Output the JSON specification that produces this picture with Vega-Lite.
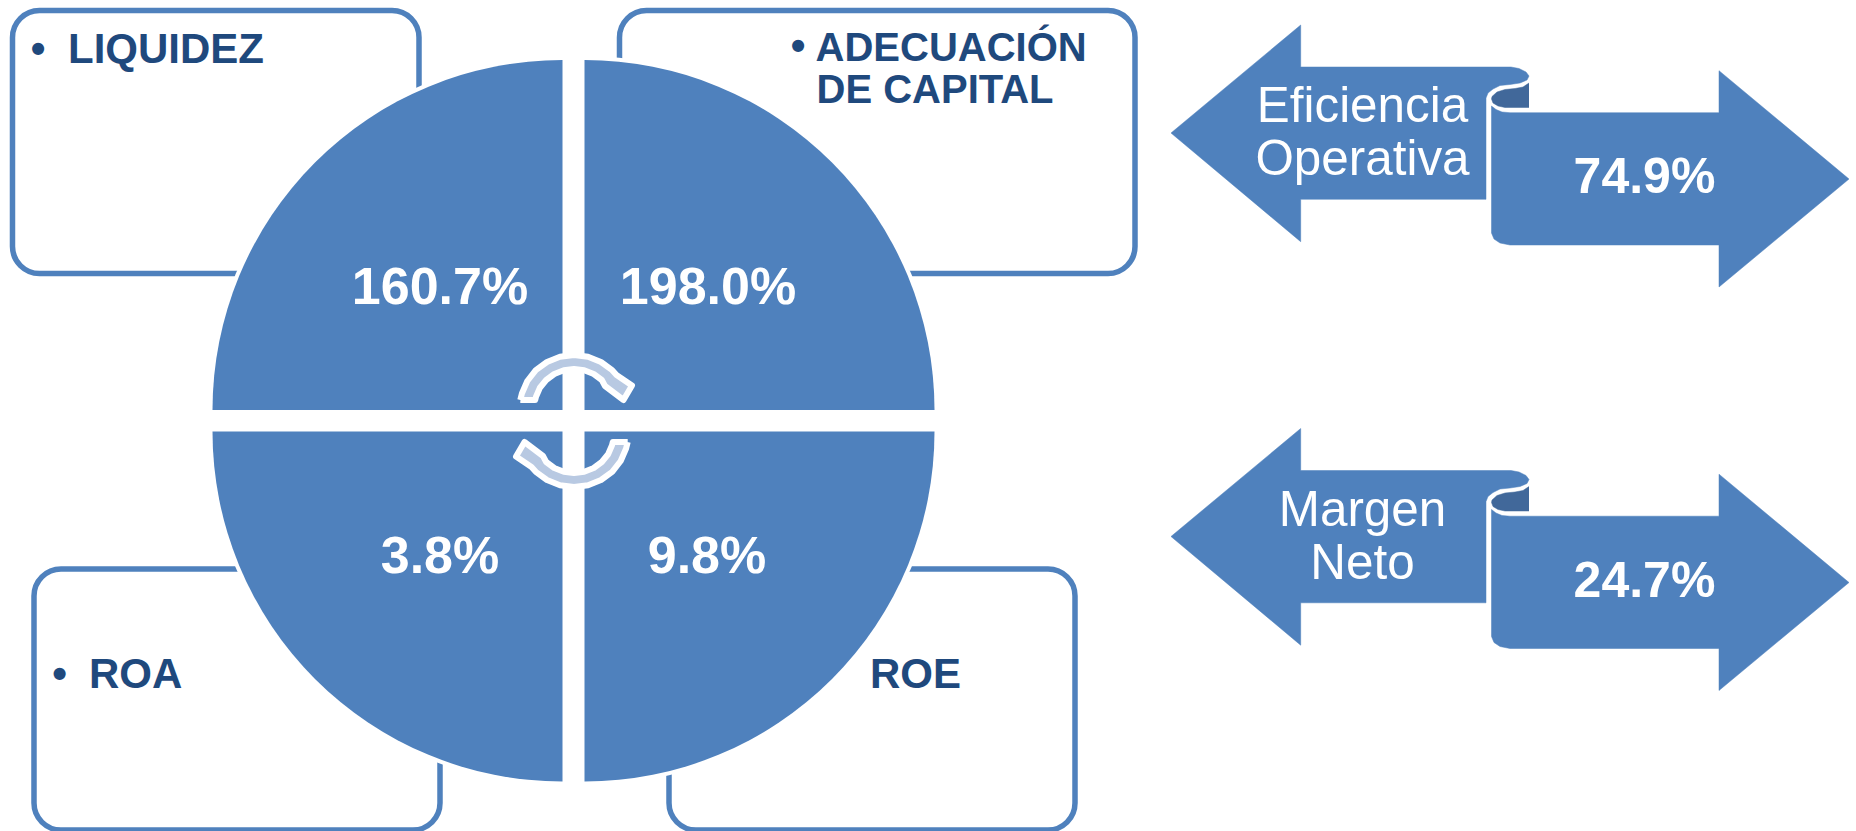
{
"$schema":"https://vega.github.io/schema/vega-lite/v6.json",
"width":1856,"height":831,"padding":0,"autosize":"none","background":"white",
"view":{"stroke":null},
"config":{"font":"Liberation Sans"},
"datasets":{
"boxes":[
{"metric":"Liquidez","x":12.5,"x2":419,"y":10.5,"y2":273.5},
{"metric":"Adecuación de capital","x":619.5,"x2":1135,"y":10.5,"y2":273.5},
{"metric":"ROA","x":34,"x2":440,"y":569,"y2":830},
{"metric":"ROE","x":669,"x2":1075,"y":569,"y2":830}],
"quadrants":[
{"metric":"Liquidez","value":160.7,"x":562.5,"y":410,"start":4.7124,"end":6.2832},
{"metric":"Adecuación de capital","value":198.0,"x":584.5,"y":410,"start":0,"end":1.5708},
{"metric":"ROE","value":9.8,"x":584.5,"y":431.5,"start":1.5708,"end":3.1416},
{"metric":"ROA","value":3.8,"x":562.5,"y":431.5,"start":3.1416,"end":4.7124}],
"shapes":[
{"s":"a1L","k":"arrow","n":0,"x":1171,"y":133},{"s":"a1L","k":"arrow","n":1,"x":1300.7,"y":25},{"s":"a1L","k":"arrow","n":2,"x":1300.7,"y":67},{"s":"a1L","k":"arrow","n":3,"x":1511,"y":67},{"s":"a1L","k":"arrow","n":4,"x":1519,"y":68.5},{"s":"a1L","k":"arrow","n":5,"x":1526,"y":72},{"s":"a1L","k":"arrow","n":6,"x":1529,"y":76},{"s":"a1L","k":"arrow","n":7,"x":1527,"y":80},{"s":"a1L","k":"arrow","n":8,"x":1520,"y":83},{"s":"a1L","k":"arrow","n":9,"x":1510,"y":84.5},{"s":"a1L","k":"arrow","n":10,"x":1500,"y":85.5},{"s":"a1L","k":"arrow","n":11,"x":1493,"y":89},{"s":"a1L","k":"arrow","n":12,"x":1488,"y":93},{"s":"a1L","k":"arrow","n":13,"x":1486,"y":98},{"s":"a1L","k":"arrow","n":14,"x":1486,"y":199.3},{"s":"a1L","k":"arrow","n":15,"x":1300.7,"y":199.3},{"s":"a1L","k":"arrow","n":16,"x":1300.7,"y":241.7},{"s":"a1L","k":"arrow","n":17,"x":1171,"y":133},
{"s":"a1R","k":"arrow","n":0,"x":1491.5,"y":106},{"s":"a1R","k":"arrow","n":1,"x":1496,"y":109.5},{"s":"a1R","k":"arrow","n":2,"x":1502,"y":112},{"s":"a1R","k":"arrow","n":3,"x":1510,"y":112.7},{"s":"a1R","k":"arrow","n":4,"x":1719,"y":112.7},{"s":"a1R","k":"arrow","n":5,"x":1719,"y":70.7},{"s":"a1R","k":"arrow","n":6,"x":1849,"y":179},{"s":"a1R","k":"arrow","n":7,"x":1719,"y":287},{"s":"a1R","k":"arrow","n":8,"x":1719,"y":245},{"s":"a1R","k":"arrow","n":9,"x":1510,"y":245},{"s":"a1R","k":"arrow","n":10,"x":1500,"y":243},{"s":"a1R","k":"arrow","n":11,"x":1494,"y":239},{"s":"a1R","k":"arrow","n":12,"x":1491.5,"y":233},{"s":"a1R","k":"arrow","n":13,"x":1491.5,"y":106},
{"s":"a1C","k":"curl","n":0,"x":1529,"y":83},{"s":"a1C","k":"curl","n":1,"x":1523,"y":87},{"s":"a1C","k":"curl","n":2,"x":1515,"y":88.5},{"s":"a1C","k":"curl","n":3,"x":1505,"y":89.5},{"s":"a1C","k":"curl","n":4,"x":1497,"y":92},{"s":"a1C","k":"curl","n":5,"x":1492,"y":96.5},{"s":"a1C","k":"curl","n":6,"x":1491.5,"y":99},{"s":"a1C","k":"curl","n":7,"x":1493,"y":103},{"s":"a1C","k":"curl","n":8,"x":1498,"y":106},{"s":"a1C","k":"curl","n":9,"x":1505,"y":107.5},{"s":"a1C","k":"curl","n":10,"x":1529,"y":107.5},
{"s":"a2L","k":"arrow","n":0,"x":1171,"y":536.5},{"s":"a2L","k":"arrow","n":1,"x":1300.7,"y":428.5},{"s":"a2L","k":"arrow","n":2,"x":1300.7,"y":470.5},{"s":"a2L","k":"arrow","n":3,"x":1511,"y":470.5},{"s":"a2L","k":"arrow","n":4,"x":1519,"y":472},{"s":"a2L","k":"arrow","n":5,"x":1526,"y":475.5},{"s":"a2L","k":"arrow","n":6,"x":1529,"y":479.5},{"s":"a2L","k":"arrow","n":7,"x":1527,"y":483.5},{"s":"a2L","k":"arrow","n":8,"x":1520,"y":486.5},{"s":"a2L","k":"arrow","n":9,"x":1510,"y":488},{"s":"a2L","k":"arrow","n":10,"x":1500,"y":489},{"s":"a2L","k":"arrow","n":11,"x":1493,"y":492.5},{"s":"a2L","k":"arrow","n":12,"x":1488,"y":496.5},{"s":"a2L","k":"arrow","n":13,"x":1486,"y":501.5},{"s":"a2L","k":"arrow","n":14,"x":1486,"y":602.8},{"s":"a2L","k":"arrow","n":15,"x":1300.7,"y":602.8},{"s":"a2L","k":"arrow","n":16,"x":1300.7,"y":645.2},{"s":"a2L","k":"arrow","n":17,"x":1171,"y":536.5},
{"s":"a2R","k":"arrow","n":0,"x":1491.5,"y":509.5},{"s":"a2R","k":"arrow","n":1,"x":1496,"y":513},{"s":"a2R","k":"arrow","n":2,"x":1502,"y":515.5},{"s":"a2R","k":"arrow","n":3,"x":1510,"y":516.2},{"s":"a2R","k":"arrow","n":4,"x":1719,"y":516.2},{"s":"a2R","k":"arrow","n":5,"x":1719,"y":474.2},{"s":"a2R","k":"arrow","n":6,"x":1849,"y":582.5},{"s":"a2R","k":"arrow","n":7,"x":1719,"y":690.5},{"s":"a2R","k":"arrow","n":8,"x":1719,"y":648.5},{"s":"a2R","k":"arrow","n":9,"x":1510,"y":648.5},{"s":"a2R","k":"arrow","n":10,"x":1500,"y":646.5},{"s":"a2R","k":"arrow","n":11,"x":1494,"y":642.5},{"s":"a2R","k":"arrow","n":12,"x":1491.5,"y":636.5},{"s":"a2R","k":"arrow","n":13,"x":1491.5,"y":509.5},
{"s":"a2C","k":"curl","n":0,"x":1529,"y":486.5},{"s":"a2C","k":"curl","n":1,"x":1523,"y":490.5},{"s":"a2C","k":"curl","n":2,"x":1515,"y":492},{"s":"a2C","k":"curl","n":3,"x":1505,"y":493},{"s":"a2C","k":"curl","n":4,"x":1497,"y":495.5},{"s":"a2C","k":"curl","n":5,"x":1492,"y":500},{"s":"a2C","k":"curl","n":6,"x":1491.5,"y":502.5},{"s":"a2C","k":"curl","n":7,"x":1493,"y":506.5},{"s":"a2C","k":"curl","n":8,"x":1498,"y":509.5},{"s":"a2C","k":"curl","n":9,"x":1505,"y":511},{"s":"a2C","k":"curl","n":10,"x":1529,"y":511},
{"s":"c1","k":"cycle","n":0,"x":520.3,"y":400},{"s":"c1","k":"cycle","n":1,"x":521.9,"y":393.5},{"s":"c1","k":"cycle","n":2,"x":527.3,"y":381},{"s":"c1","k":"cycle","n":3,"x":535.8,"y":370.2},{"s":"c1","k":"cycle","n":4,"x":547,"y":362},{"s":"c1","k":"cycle","n":5,"x":560,"y":356.8},{"s":"c1","k":"cycle","n":6,"x":574,"y":355},{"s":"c1","k":"cycle","n":7,"x":588,"y":356.8},{"s":"c1","k":"cycle","n":8,"x":601,"y":362},{"s":"c1","k":"cycle","n":9,"x":612.2,"y":370.2},{"s":"c1","k":"cycle","n":10,"x":616.5,"y":375},{"s":"c1","k":"cycle","n":11,"x":632,"y":385.5},{"s":"c1","k":"cycle","n":12,"x":623.5,"y":400},{"s":"c1","k":"cycle","n":13,"x":605,"y":386},{"s":"c1","k":"cycle","n":14,"x":601.8,"y":380},{"s":"c1","k":"cycle","n":15,"x":593.7,"y":374},{"s":"c1","k":"cycle","n":16,"x":584.2,"y":370.3},{"s":"c1","k":"cycle","n":17,"x":574,"y":369},{"s":"c1","k":"cycle","n":18,"x":563.8,"y":370.3},{"s":"c1","k":"cycle","n":19,"x":554.3,"y":374},{"s":"c1","k":"cycle","n":20,"x":546.2,"y":380},{"s":"c1","k":"cycle","n":21,"x":539.9,"y":387.75},{"s":"c1","k":"cycle","n":22,"x":536,"y":396.8},{"s":"c1","k":"cycle","n":23,"x":535.2,"y":400},{"s":"c1","k":"cycle","n":24,"x":520.3,"y":400},
{"s":"c2","k":"cycle","n":0,"x":627.7,"y":442},{"s":"c2","k":"cycle","n":1,"x":626.1,"y":448.5},{"s":"c2","k":"cycle","n":2,"x":620.7,"y":461},{"s":"c2","k":"cycle","n":3,"x":612.2,"y":471.8},{"s":"c2","k":"cycle","n":4,"x":601,"y":480},{"s":"c2","k":"cycle","n":5,"x":588,"y":485.2},{"s":"c2","k":"cycle","n":6,"x":574,"y":487},{"s":"c2","k":"cycle","n":7,"x":560,"y":485.2},{"s":"c2","k":"cycle","n":8,"x":547,"y":480},{"s":"c2","k":"cycle","n":9,"x":535.8,"y":471.8},{"s":"c2","k":"cycle","n":10,"x":531.5,"y":467},{"s":"c2","k":"cycle","n":11,"x":516,"y":456.5},{"s":"c2","k":"cycle","n":12,"x":524.5,"y":442},{"s":"c2","k":"cycle","n":13,"x":543,"y":456},{"s":"c2","k":"cycle","n":14,"x":546.2,"y":462},{"s":"c2","k":"cycle","n":15,"x":554.3,"y":468},{"s":"c2","k":"cycle","n":16,"x":563.8,"y":471.7},{"s":"c2","k":"cycle","n":17,"x":574,"y":473},{"s":"c2","k":"cycle","n":18,"x":584.2,"y":471.7},{"s":"c2","k":"cycle","n":19,"x":593.7,"y":468},{"s":"c2","k":"cycle","n":20,"x":601.8,"y":462},{"s":"c2","k":"cycle","n":21,"x":608.1,"y":454.25},{"s":"c2","k":"cycle","n":22,"x":612,"y":445.2},{"s":"c2","k":"cycle","n":23,"x":612.8,"y":442},{"s":"c2","k":"cycle","n":24,"x":627.7,"y":442}],
"bullets":[
{"t":"•","x":38,"y":63.3},
{"t":"•","x":798,"y":59.5},
{"t":"•","x":59.6,"y":687.7}],
"labels":[
{"t":"LIQUIDEZ","k":"head","x":68,"y":63.3},
{"t":"ADECUACIÓN","k":"head2","x":815.6,"y":60.7},
{"t":"DE CAPITAL","k":"head2","x":816.5,"y":102.5},
{"t":"ROA","k":"head","x":89,"y":687.7},
{"t":"ROE","k":"head","x":870,"y":687.7}],
"values":[
{"t":"160.7%","k":"big","x":440,"y":304},
{"t":"198.0%","k":"big","x":708,"y":304},
{"t":"3.8%","k":"big","x":440,"y":572.5},
{"t":"9.8%","k":"big","x":707,"y":572.5},
{"t":"74.9%","k":"mid","x":1644.5,"y":193},
{"t":"24.7%","k":"mid","x":1644.5,"y":596.5}],
"names":[
{"t":"Eficiencia","x":1362.5,"y":122},
{"t":"Operativa","x":1362.5,"y":175},
{"t":"Margen","x":1362.5,"y":525.5},
{"t":"Neto","x":1362.5,"y":578.5}]
},
"encoding":{
"x":{"field":"x","type":"quantitative","scale":{"domain":[0,1856],"nice":false,"zero":false},"axis":null},
"y":{"field":"y","type":"quantitative","scale":{"domain":[831,0],"nice":false,"zero":false},"axis":null}
},
"layer":[
{"data":{"name":"boxes"},"mark":{"type":"rect","fill":"white","stroke":"#4F81BD","strokeWidth":5.5,"cornerRadius":27,"clip":false},
 "encoding":{"x2":{"field":"x2"},"y2":{"field":"y2"}}},
{"data":{"name":"quadrants"},"mark":{"type":"arc","outerRadius":354,"innerRadius":0,"fill":"white"},
 "encoding":{"theta":{"field":"start","type":"quantitative","scale":null},"theta2":{"field":"end"}}},
{"data":{"name":"quadrants"},"mark":{"type":"arc","outerRadius":350,"innerRadius":0,"fill":"#4F81BD"},
 "encoding":{"theta":{"field":"start","type":"quantitative","scale":null},"theta2":{"field":"end"}}},
{"data":{"name":"shapes"},"transform":[{"filter":"datum.k==='arrow'"}],
 "mark":{"type":"line","fill":"#4F81BD","stroke":"#4F81BD","strokeWidth":0.5},
 "encoding":{"detail":{"field":"s"},"order":{"field":"n","type":"quantitative"}}},
{"data":{"name":"shapes"},"transform":[{"filter":"datum.k==='curl'"}],
 "mark":{"type":"line","fill":"#41689A","stroke":"#41689A","strokeWidth":0.5},
 "encoding":{"detail":{"field":"s"},"order":{"field":"n","type":"quantitative"}}},
{"data":{"name":"shapes"},"transform":[{"filter":"datum.k==='cycle'"}],
 "mark":{"type":"line","fill":"#B8C9E2","stroke":"white","strokeWidth":6,"strokeJoin":"round"},
 "encoding":{"detail":{"field":"s"},"order":{"field":"n","type":"quantitative"}}},
{"data":{"name":"bullets"},
 "mark":{"type":"text","font":"Liberation Sans","fontWeight":"bold","fontSize":42,"fill":"#1F497D","baseline":"alphabetic","align":"center"},
 "encoding":{"text":{"field":"t"}}},
{"data":{"name":"labels"},"transform":[{"filter":"datum.k==='head'"}],
 "mark":{"type":"text","font":"Liberation Sans","fontWeight":"bold","fontSize":42,"fill":"#1F497D","baseline":"alphabetic","align":"left"},
 "encoding":{"text":{"field":"t"}}},
{"data":{"name":"labels"},"transform":[{"filter":"datum.k==='head2'"}],
 "mark":{"type":"text","font":"Liberation Sans","fontWeight":"bold","fontSize":40,"fill":"#1F497D","baseline":"alphabetic","align":"left"},
 "encoding":{"text":{"field":"t"}}},
{"data":{"name":"values"},"transform":[{"filter":"datum.k==='big'"}],
 "mark":{"type":"text","font":"Liberation Sans","fontWeight":"bold","fontSize":52,"fill":"white","baseline":"alphabetic","align":"center"},
 "encoding":{"text":{"field":"t"}}},
{"data":{"name":"values"},"transform":[{"filter":"datum.k==='mid'"}],
 "mark":{"type":"text","font":"Liberation Sans","fontWeight":"bold","fontSize":50,"fill":"white","baseline":"alphabetic","align":"center"},
 "encoding":{"text":{"field":"t"}}},
{"data":{"name":"names"},
 "mark":{"type":"text","font":"Liberation Sans","fontSize":49.4,"fill":"white","baseline":"alphabetic","align":"center"},
 "encoding":{"text":{"field":"t"}}}
]
}
